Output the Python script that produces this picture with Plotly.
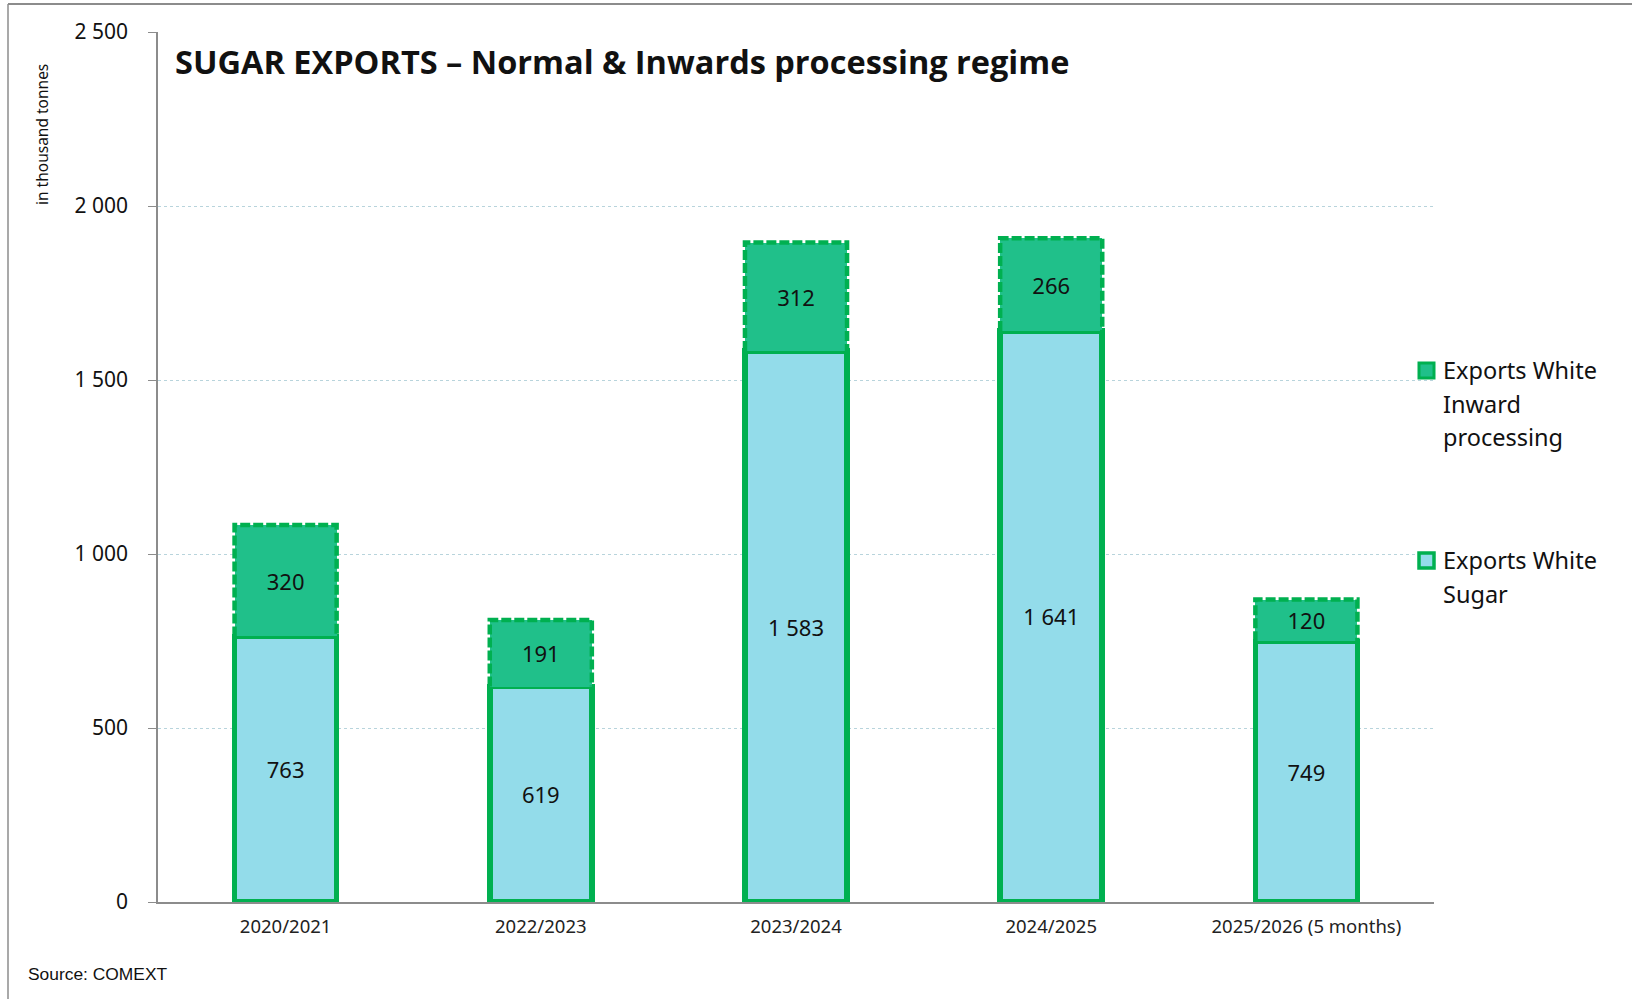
import plotly.graph_objects as go

categories = ["2020/2021", "2022/2023", "2023/2024", "2024/2025", "2025/2026 (5 months)"]
white_sugar = [763, 619, 1583, 1641, 749]
inward_processing = [320, 191, 312, 266, 120]
y_ticks = [0, 500, 1000, 1500, 2000, 2500]
legend_inward = ["Exports White", "Inward", "processing"]
legend_sugar = ["Exports White", "Sugar"]

W, H = 1632, 999
ML, MR, MT, MB = 158, 198, 32, 97
PW, PH = W - ML - MR, H - MT - MB

def px_x(p):
    return (p - ML) / PW

def px_y(p):
    return (H - MB - p) / PH

GREEN = "#00B050"
LIGHT = "#93DCEA"
TEAL = "#20C08A"
BW = 0.40
xs_idx = list(range(len(categories)))

fig = go.Figure()
fig.add_trace(go.Bar(
    x=xs_idx, y=white_sugar, name="Exports White Sugar", width=BW,
    marker=dict(color=LIGHT, line=dict(color=GREEN, width=5.5)),
    texttemplate="%{y:,.0f}", textposition="inside",
    insidetextanchor="middle", textangle=0,
    textfont=dict(family="Noto Sans", size=22, color="#111111"),
    hoverinfo="skip",
))
fig.add_trace(go.Bar(
    x=xs_idx, y=inward_processing, name="Exports White Inward processing", width=BW,
    marker=dict(color=TEAL, line=dict(color=TEAL, width=0)),
    texttemplate="%{y:,.0f}", textposition="inside",
    insidetextanchor="middle", textangle=0,
    textfont=dict(family="Noto Sans", size=22, color="#111111"),
    hoverinfo="skip",
))

# dashed outline of the inward processing segment, derived from the data
ox, oy = [], []
for i, (b, t) in enumerate(zip(white_sugar, inward_processing)):
    ox += [i - BW / 2, i - BW / 2, i + BW / 2, i + BW / 2, None]
    oy += [b, b + t, b + t, b, None]
fig.add_trace(go.Scatter(
    x=ox, y=oy, mode="lines", showlegend=False, hoverinfo="skip",
    line=dict(color=GREEN, width=4.5, dash="10px,3px"),
))

annotations = [
    dict(text="<b>SUGAR EXPORTS – Normal & Inwards processing regime</b>",
         xref="paper", yref="paper", x=px_x(173), y=px_y(62),
         xanchor="left", yanchor="middle", showarrow=False,
         font=dict(family="Open Sans", size=32.5, color="#111111")),
    dict(text="in thousand tonnes", textangle=-90,
         xref="paper", yref="paper", x=px_x(42), y=px_y(135),
         xanchor="center", yanchor="middle", showarrow=False,
         font=dict(family="Noto Sans", size=15.5, color="#111111")),
    dict(text="Source: COMEXT",
         xref="paper", yref="paper", x=px_x(26), y=px_y(974),
         xanchor="left", yanchor="middle", showarrow=False,
         font=dict(family="Liberation Sans", size=17.4, color="#111111")),
]
# manual legend
for lines, y0 in ((legend_inward, 370), (legend_sugar, 560)):
    for k, line in enumerate(lines):
        annotations.append(dict(
            text=line, xref="paper", yref="paper", x=px_x(1441), y=px_y(y0 + 33.5 * k),
            xanchor="left", yanchor="middle", showarrow=False,
            font=dict(family="Noto Sans", size=23.5, color="#111111")))

shapes = [
    dict(type="line", xref="paper", yref="paper",
         x0=px_x(8), x1=px_x(8), y0=px_y(4), y1=px_y(999),
         line=dict(color="#8C8C8C", width=1.5)),
    dict(type="line", xref="paper", yref="paper",
         x0=px_x(8), x1=px_x(1632), y0=px_y(4), y1=px_y(4),
         line=dict(color="#8C8C8C", width=2)),
    dict(type="rect", xref="paper", yref="paper",
         x0=px_x(1419), x1=px_x(1434), y0=px_y(363), y1=px_y(378),
         fillcolor=TEAL, line=dict(color=GREEN, width=3)),
    dict(type="rect", xref="paper", yref="paper",
         x0=px_x(1419), x1=px_x(1434), y0=px_y(553), y1=px_y(568),
         fillcolor=LIGHT, line=dict(color=GREEN, width=3.5)),
]

fig.update_layout(
    width=W, height=H, barmode="stack", separators=". ",
    margin=dict(l=ML, r=MR, t=MT, b=MB),
    paper_bgcolor="white", plot_bgcolor="white",
    font=dict(family="Noto Sans", color="#111111"),
    showlegend=False,
    xaxis=dict(
        range=[-0.5, len(categories) - 0.5], tickmode="array",
        tickvals=xs_idx, ticktext=categories, showgrid=False, zeroline=False,
        showline=True, linecolor="#8C8C8C", linewidth=1.5, ticks="",
        ticklabelstandoff=7,
        tickfont=dict(family="Noto Sans", size=18.5, color="#222222"),
    ),
    yaxis=dict(
        range=[0, 2500], tickmode="array", tickvals=y_ticks,
        separatethousands=True,
        showgrid=True, gridcolor="#B8D4DC", griddash="dot", gridwidth=1,
        zeroline=False, showline=True, linecolor="#8C8C8C", linewidth=1.5,
        ticks="outside", ticklen=8, tickcolor="#8C8C8C", ticklabelstandoff=16,
        tickfont=dict(family="Noto Sans", size=21, color="#111111"),
    ),
    annotations=annotations,
    shapes=shapes,
)

fig.write_html("out.html", config={"displayModeBar": False},
               post_script="document.body.style.margin='0';")
